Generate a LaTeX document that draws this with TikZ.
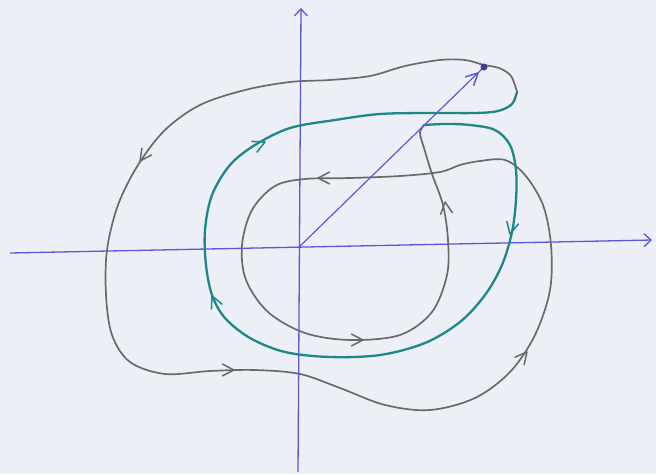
\documentclass[tikz,border=0pt]{standalone}
\usetikzlibrary{calc,arrows.meta}
\definecolor{paper}{RGB}{237,239,246}
\definecolor{pen}{RGB}{106,106,106}
\definecolor{tealpen}{RGB}{30,136,136}
\definecolor{bluepen}{RGB}{88,88,222}
\newcommand{\barbat}[3][pen]{\draw[#1,line width=1.5pt,line cap=round,line join=round] ($(#2)!13pt!27:(#3)$) -- (#2) -- ($(#2)!13pt!-27:(#3)$);}
\begin{document}
\begin{tikzpicture}[x=1pt,y=-1pt,
  graycurve/.style={draw=pen,line width=1.7pt,line cap=round},
  tealcurve/.style={draw=tealpen,line width=2.3pt,line cap=round},
  axis/.style={draw=bluepen,line width=1.3pt,-{Straight Barb[length=7pt,width=13pt]}}]
\fill[paper] (0,0) rectangle (656,474);
\useasboundingbox (0,0) rectangle (656,474);
% axes
\coordinate (O) at (298,248);
\coordinate (xl) at (10,253);
\coordinate (xr) at (652,240);
\coordinate (yb) at (298,472);
\coordinate (yt) at (301,8);
\draw[axis] (xl) -- (xr);
\draw[axis] (yb) -- (yt);
% gray trajectory
\coordinate (J1) at (517,92);
\coordinate (J2) at (424,125);
\draw[graycurve] plot[smooth,tension=0.55] coordinates {
(517,92) (511,76) (499,68) (484,65) (465,60) (440,60) (405,66) (370,76) (330,80) (290,82) (245,90) (200,105) (165,130) (138,165) (118,205) (107,250) (106,295) (112,335) (130,362) (165,374) (210,371) (255,370) (300,374) (340,388) (385,405) (430,410) (475,398) (510,372) (535,335) (550,290) (551,245) (543,205) (525,175) (505,160) (480,161) (460,165) (440,172) (400,176) (350,178) (305,179) (275,186) (252,210) (242,245) (246,280) (268,312) (305,333) (350,340) (400,335) (432,312) (447,275) (448,240) (443,205) (432,174) (424,148) (420,133) (424,125)};
% teal trajectory
\draw[tealcurve] plot[smooth,tension=0.55] coordinates {
(424,125) (445,124) (470,125) (495,130) (510,145) (516,170) (516,200) (512,232) (502,265) (485,295) (460,322) (425,343) (380,355) (330,357) (285,352) (250,338) (225,318) (212,295) (206,265) (205,230) (212,195) (230,165) (255,145) (290,128) (335,120) (380,114) (430,113) (475,113) (498,111) (512,104) (517,92)};
% vector
\coordinate (P) at (484,67);
\draw[bluepen,line width=1.2pt] (O) -- (P);
\fill[bluepen!70!black] (P) circle (3.5pt);
\coordinate (vt) at (478,73);
\barbat[bluepen]{vt}{O}
% arrowheads gray
\coordinate (a1) at (140,161); \coordinate (b1) at (160,133);
\barbat{a1}{b1}
\coordinate (a2) at (234,370); \coordinate (b2) at (214,370);
\barbat{a2}{b2}
\coordinate (a3) at (527,352); \coordinate (b3) at (512,370);
\barbat{a3}{b3}
\coordinate (a4) at (318,178); \coordinate (b4) at (338,178);
\barbat{a4}{b4}
\coordinate (a5) at (363,340); \coordinate (b5) at (343,340);
\barbat{a5}{b5}
\coordinate (a6) at (445,202); \coordinate (b6) at (448,224);
\barbat{a6}{b6}
% arrowheads teal
\coordinate (a7) at (510,234); \coordinate (b7) at (515,212);
\barbat[tealpen,line width=2.2pt]{a7}{b7}
\coordinate (a8) at (212,296); \coordinate (b8) at (222,318);
\barbat[tealpen,line width=2.2pt]{a8}{b8}
\coordinate (a9) at (265,142); \coordinate (b9) at (243,152);
\barbat[tealpen,line width=2.2pt]{a9}{b9}
\end{tikzpicture}
\end{document}
